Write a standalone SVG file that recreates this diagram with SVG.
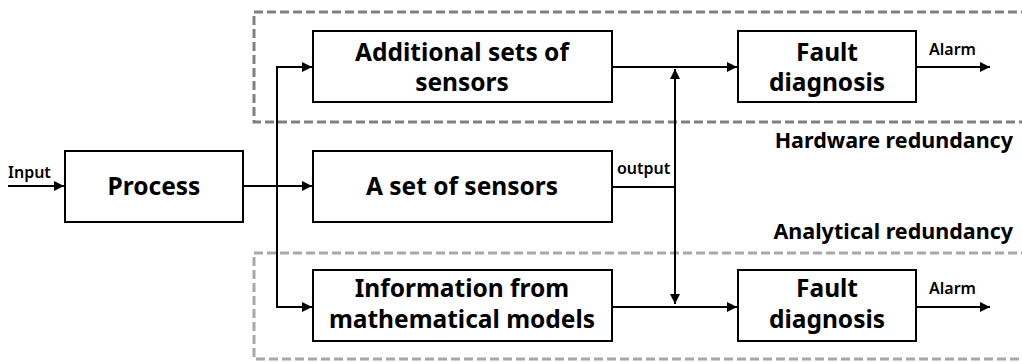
<svg xmlns="http://www.w3.org/2000/svg" width="1022" height="362" viewBox="0 0 1022 362">
<defs>
<marker id="ah" viewBox="0 0 10 10" refX="10" refY="5" markerWidth="5" markerHeight="5" orient="auto" markerUnits="strokeWidth">
<path d="M0,0 L10,5 L0,10 z" fill="#000"/>
</marker>
<style>
.box{fill:#fff;stroke:#000;stroke-width:2}
.t{font-family:"Noto Sans","DejaVu Sans",sans-serif;font-weight:bold;font-size:24.5px;fill:#000;text-anchor:middle}
.s{font-family:"Noto Sans","DejaVu Sans",sans-serif;font-weight:600;font-size:16px;fill:#000}
.r{font-family:"Noto Sans","DejaVu Sans",sans-serif;font-weight:bold;font-size:21.5px;fill:#000;text-anchor:end}
.ln{fill:none;stroke:#000;stroke-width:2}
.dash1{fill:none;stroke:#808080;stroke-width:3;stroke-dasharray:9 4}
.dash2{fill:none;stroke:#a8a8a8;stroke-width:3;stroke-dasharray:9 4}
</style>
</defs>
<g id="regions">
<path class="dash1" d="M1030,12 H254 V122 H1030"/>
<path class="dash2" d="M1030,253 H254 V359 H1030"/>
<text class="r" x="1013" y="148">Hardware redundancy</text>
<text class="r" x="1013" y="239">Analytical redundancy</text>
</g>
<g id="connectors">
<path class="ln" d="M8,186 H64" marker-end="url(#ah)"/>
<path class="ln" d="M243,186 H312" marker-end="url(#ah)"/>
<path class="ln" d="M277,186 V67 H312" marker-end="url(#ah)"/>
<path class="ln" d="M277,186 V307 H312" marker-end="url(#ah)"/>
<path class="ln" d="M612,67 H737" marker-end="url(#ah)"/>
<path class="ln" d="M612,307 H737" marker-end="url(#ah)"/>
<path class="ln" d="M612,187 H675"/>
<path class="ln" d="M675,187 V69" marker-end="url(#ah)"/>
<path class="ln" d="M675,187 V304" marker-end="url(#ah)"/>
<path class="ln" d="M916,67 H990" marker-end="url(#ah)"/>
<path class="ln" d="M916,307 H990" marker-end="url(#ah)"/>
<text class="s" x="8" y="178">Input</text>
<text class="s" x="617" y="174">output</text>
<text class="s" x="929" y="55">Alarm</text>
<text class="s" x="929" y="294">Alarm</text>
</g>
<g id="process">
<rect class="box" x="65" y="151" width="178" height="71"/>
<text class="t" x="154" y="195">Process</text>
</g>
<g id="additional-sensors">
<rect class="box" x="313" y="31" width="299" height="71"/>
<text class="t" x="462" y="61">Additional sets of</text>
<text class="t" x="462" y="91">sensors</text>
</g>
<g id="set-of-sensors">
<rect class="box" x="313" y="151" width="299" height="71"/>
<text class="t" x="462" y="195">A set of sensors</text>
</g>
<g id="math-models">
<rect class="box" x="313" y="270" width="299" height="71"/>
<text class="t" x="462" y="297">Information from</text>
<text class="t" x="462" y="328">mathematical models</text>
</g>
<g id="fault-top">
<rect class="box" x="738" y="31" width="178" height="71"/>
<text class="t" x="827" y="61">Fault</text>
<text class="t" x="827" y="91">diagnosis</text>
</g>
<g id="fault-bottom">
<rect class="box" x="738" y="270" width="178" height="71"/>
<text class="t" x="827" y="297">Fault</text>
<text class="t" x="827" y="328">diagnosis</text>
</g>
</svg>
